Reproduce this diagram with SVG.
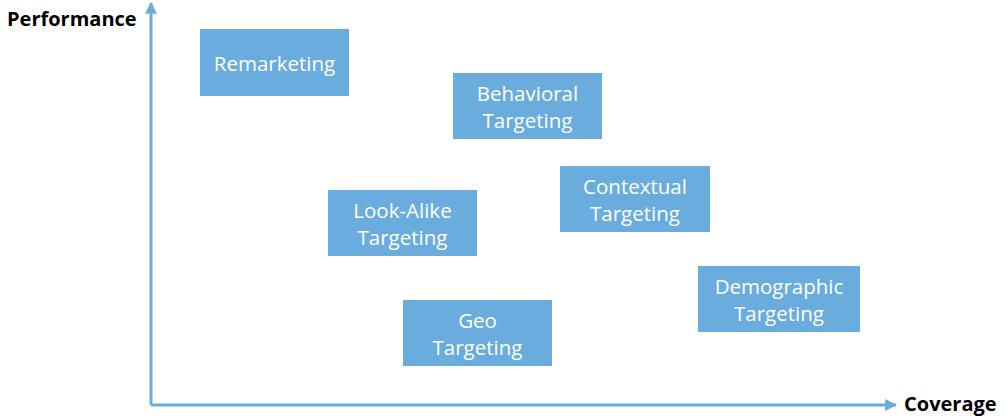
<svg xmlns="http://www.w3.org/2000/svg" width="1005" height="420" viewBox="0 0 1005 420">
<style>
.box{fill:#6aacde;}
.t{font-family:"Open Sans","Noto Sans",sans-serif;font-size:20.5px;fill:#ffffff;text-anchor:middle;}
.ax{font-family:"Open Sans","Noto Sans",sans-serif;font-size:20px;font-weight:bold;fill:#000000;}
.axis{stroke:#6aacde;stroke-width:3;fill:none;}
</style>
<defs>
<marker id="arr" viewBox="0 0 10 10" refX="9" refY="5" markerWidth="4" markerHeight="4" orient="auto" markerUnits="strokeWidth">
<path d="M0,0 L10,5 L0,10 Z" fill="#6aacde"/>
</marker>
</defs>
<g id="axes">
<path class="axis" d="M151,405 L151,3" marker-end="url(#arr)"/>
<path class="axis" d="M151,405 L896,405" marker-end="url(#arr)"/>
</g>
<text class="ax" x="7" y="26">Performance</text>
<text class="ax" x="904" y="411">Coverage</text>
<g id="remarketing"><rect class="box" x="200" y="29" width="149" height="67"/><text class="t" x="274.5" y="71">Remarketing</text></g>
<g id="behavioral"><rect class="box" x="453" y="73" width="149" height="66"/><text class="t" x="527.5" y="101">Behavioral</text><text class="t" x="527.5" y="128">Targeting</text></g>
<g id="contextual"><rect class="box" x="560" y="166" width="150" height="66"/><text class="t" x="635" y="194">Contextual</text><text class="t" x="635" y="221">Targeting</text></g>
<g id="lookalike"><rect class="box" x="328" y="190" width="149" height="66"/><text class="t" x="402.5" y="218">Look-Alike</text><text class="t" x="402.5" y="245">Targeting</text></g>
<g id="geo"><rect class="box" x="403" y="300" width="149" height="66"/><text class="t" x="477.5" y="328">Geo</text><text class="t" x="477.5" y="355">Targeting</text></g>
<g id="demographic"><rect class="box" x="698" y="266" width="162" height="66"/><text class="t" x="779" y="294">Demographic</text><text class="t" x="779" y="321">Targeting</text></g>
</svg>
